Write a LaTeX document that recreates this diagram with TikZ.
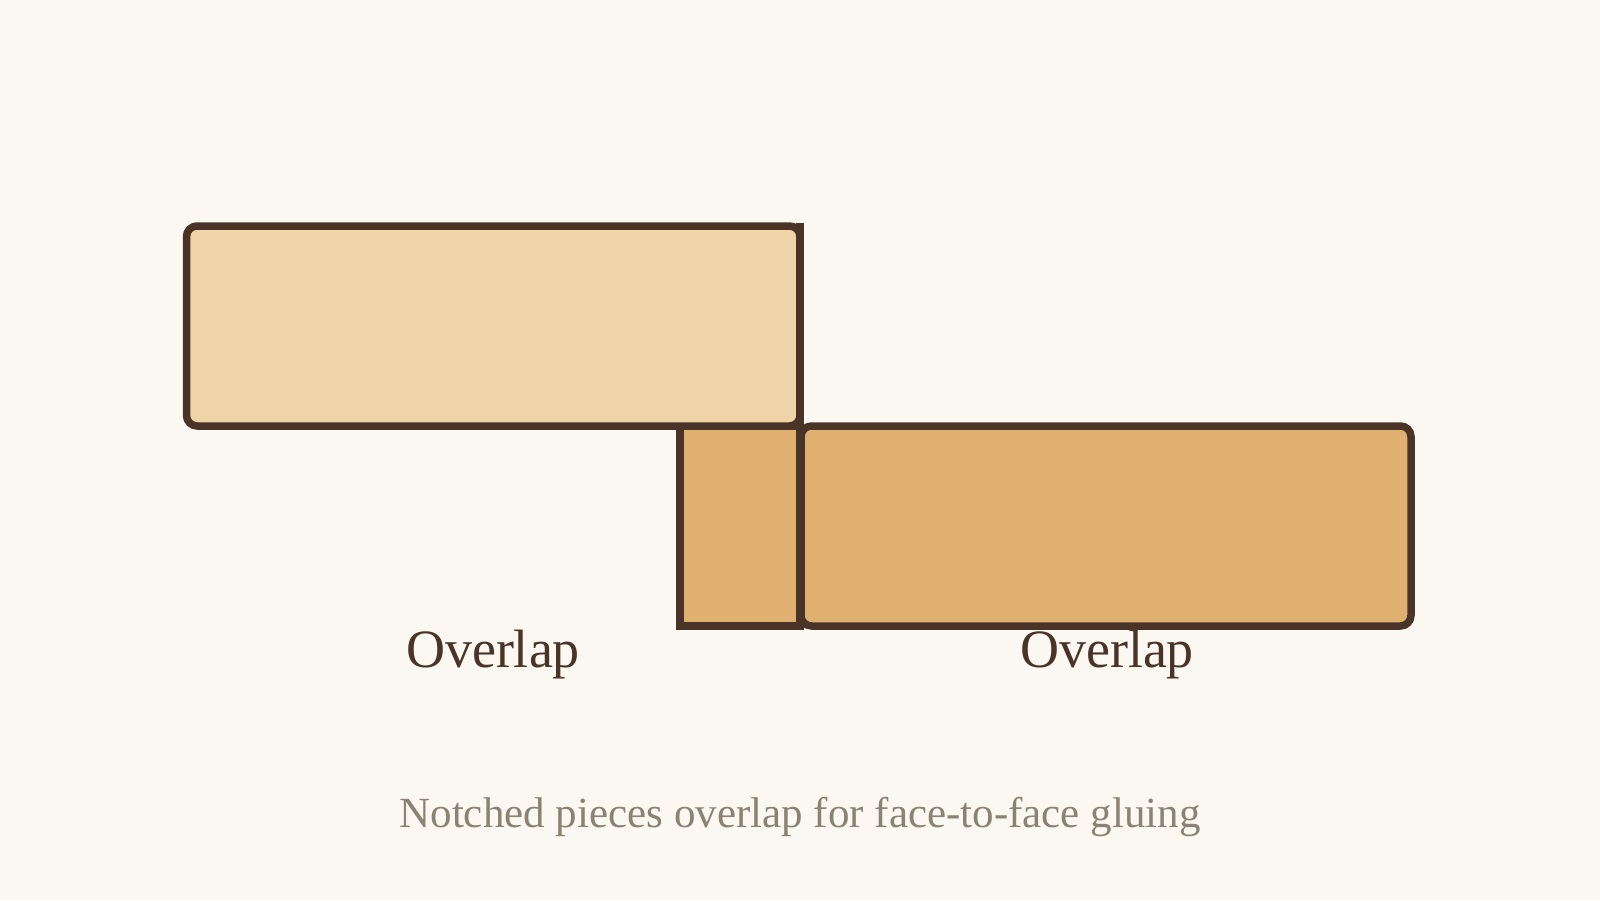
\documentclass[tikz,border=0pt]{standalone}
\usepackage{fontspec}
\setmainfont{Liberation Serif}
\definecolor{bgc}{HTML}{FBF8F2}
\definecolor{woodlight}{HTML}{EED4A6}
\definecolor{wooddark}{HTML}{E0B070}
\definecolor{edgec}{HTML}{4A3428}
\definecolor{capc}{HTML}{8A8374}
\tikzset{
  piece/.style={draw=edgec, line width=7.5pt, line join=round},
  lbl/.style={anchor=base, inner sep=0pt, text=edgec, font=\fontsize{54}{62}\selectfont},
  captiontext/.style={anchor=base, inner sep=0pt, text=capc, font=\fontsize{43}{52}\selectfont}
}
\begin{document}
\begin{tikzpicture}[x=1pt,y=-1pt]
\fill[bgc] (0,0) rectangle (1600,900);
\useasboundingbox (0,0) rectangle (1600,900);
% notch of lower piece
\draw[piece, fill=wooddark, line join=miter] (680,426) rectangle (800,626);
% lower piece
\draw[piece, fill=wooddark, rounded corners=10.5pt] (801,426) rectangle (1411,626);
% upper piece
\draw[piece, fill=woodlight, rounded corners=10.5pt] (186.5,226) rectangle (800,426);
% shoulder line
\coordinate (shtop) at (800,223);
\coordinate (shbot) at (800,630);
\draw[draw=edgec, line width=7.5pt] (shtop) -- (shbot);
\node[lbl] (ov1) at (493,667) {Overlap};
\node[lbl] (ov2) at (1107,667) {Overlap};
\node[captiontext] (caption) at (800,827) {Notched pieces overlap for face-to-face gluing};
\end{tikzpicture}
\end{document}
